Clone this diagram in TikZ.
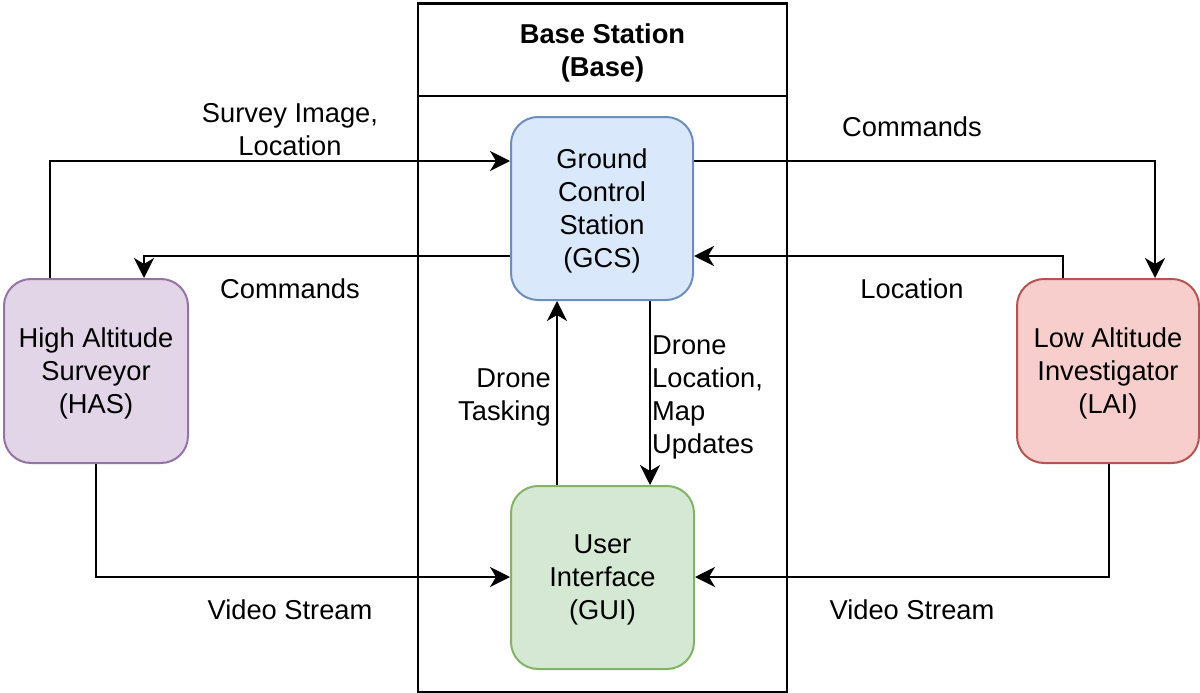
\documentclass[tikz,border=0pt]{standalone}
\usepackage{fontspec}
\setmainfont{Liberation Sans}
\usetikzlibrary{arrows.meta,positioning}

\definecolor{gcsfill}{HTML}{DAE8FC}\definecolor{gcsline}{HTML}{6C8EBF}
\definecolor{guifill}{HTML}{D5E8D4}\definecolor{guiline}{HTML}{82B366}
\definecolor{laifill}{HTML}{F8CECC}\definecolor{lailine}{HTML}{B85450}
\definecolor{hasfill}{HTML}{E1D5E7}\definecolor{hasline}{HTML}{9673A6}

\tikzset{
  txt/.style={font=\fontsize{27.3}{33}\selectfont, align=center, text depth=0pt},
  unit/.style={txt, draw, line width=2pt, rounded corners=27pt,
    minimum width=183pt, minimum height=183pt, inner sep=0pt},
  container/.style={draw=black, line width=2pt, inner sep=0pt},
  lbl/.style={txt, inner sep=0pt},
  arr/.style={line width=2pt, -{Stealth[length=20pt,width=20pt,inset=6pt]}},
}

\begin{document}
\begin{tikzpicture}[x=1pt,y=-1pt]
  \useasboundingbox (0,0) rectangle (1200,693);

  % base station container with its title bar
  \node[container, minimum width=369pt, minimum height=689pt] (base) at (602.5,347.5) {};
  \node[container, txt, font=\fontsize{27.3}{33}\selectfont\bfseries,
        minimum width=369pt, minimum height=92pt] (basehdr) at (602.5,50) {Base Station\\(Base)};

  % units
  \node[unit, fill=gcsfill, draw=gcsline, minimum width=182pt] (GCS) at (602,208.5)
    {Ground\\Control\\Station\\(GCS)};
  \node[unit, fill=guifill, draw=guiline] (GUI) at (602.5,577.5)
    {User\\Interface\\(GUI)};
  \node[unit, fill=hasfill, draw=hasline, minimum width=184pt, minimum height=184pt] (HAS) at (96,371)
    {High Altitude\\Surveyor\\(HAS)};
  \node[unit, fill=laifill, draw=lailine, minimum width=182pt, minimum height=184pt] (LAI) at (1108,371)
    {Low Altitude\\Investigator\\(LAI)};

  % routing points
  \coordinate (p1) at (50,161);
  \coordinate (p2) at (144,256);
  \coordinate (p3) at (1155,161);
  \coordinate (p4) at (1063,256);
  \coordinate (p5) at (557,0);
  \coordinate (p6) at (650,0);
  \coordinate (p7) at (96,577);
  \coordinate (p8) at (1109,577);

  % connectors
  \draw[arr] (HAS.north -| p1) |- (GCS.west |- p1);
  \draw[arr] (GCS.west |- p2) -| (HAS.north -| p2);
  \draw[arr] (GCS.east |- p3) -| (LAI.north -| p3);
  \draw[arr] (LAI.north -| p4) |- (GCS.east |- p4);
  \draw[arr] (GUI.north -| p5) -- (GCS.south -| p5);
  \draw[arr] (GCS.south -| p6) -- (GUI.north -| p6);
  \draw[arr] (HAS.south -| p7) |- (GUI.west |- p7);
  \draw[arr] (LAI.south -| p8) |- (GUI.east |- p8);

  % connector labels
  \node[lbl] (l1) at (290,129) {Survey Image,\\Location};
  \node[lbl] (l2) at (290,289) {Commands};
  \node[lbl] (l3) at (912,127) {Commands};
  \node[lbl] (l4) at (912,289) {Location};
  \node[lbl, align=right, anchor=east] (l5) at (551,395) {Drone\\Tasking};
  \node[lbl, align=left, anchor=west] (l6) at (652,395) {Drone\\Location,\\Map\\Updates};
  \node[lbl] (l7) at (290,610) {Video Stream};
  \node[lbl] (l8) at (912,610) {Video Stream};
\end{tikzpicture}
\end{document}
